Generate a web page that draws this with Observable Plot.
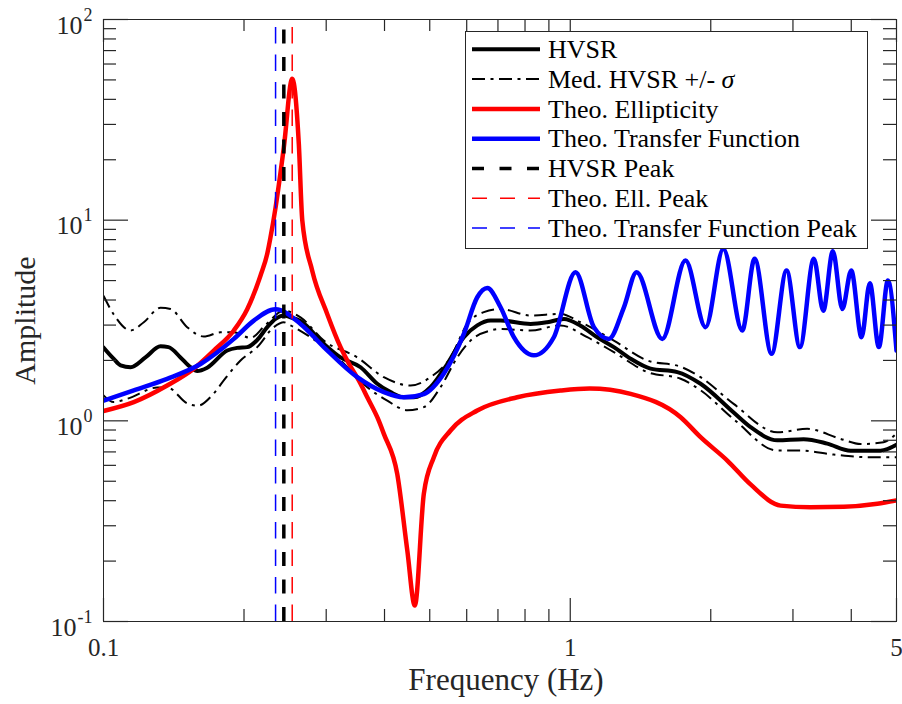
<!DOCTYPE html>
<html>
<head>
<meta charset="utf-8">
<script src="https://cdn.jsdelivr.net/npm/d3@7"></script>
<script src="https://cdn.jsdelivr.net/npm/@observablehq/plot@0.6"></script>
<style>
  body { margin: 0; background: #fff; }
  #chart { width: 902px; height: 704px; }
</style>
</head>
<body>
<div id="chart"></div>
<script>
// ---------- data ----------
const hvsrFreq = [0.1, 0.1051, 0.1088, 0.1143, 0.1230, 0.1325, 0.1378, 0.1462, 0.1536, 0.1588, 0.1668, 0.1841, 0.1934, 0.2032, 0.2135, 0.2243, 0.2336, 0.2434, 0.2516, 0.2643, 0.2965, 0.3220, 0.3554, 0.3860, 0.4121, 0.4400, 0.4622, 0.5019, 0.5451, 0.5916, 0.6321, 0.6750, 0.7091, 0.8221, 0.8926, 0.9690, 1.052, 1.1425, 1.240, 1.3465, 1.486, 1.696, 1.902, 2.239, 2.434, 2.777, 3.162, 3.554, 3.987, 4.622, 5.0];
const hvsrAmp = [2.32, 2.04, 1.89, 1.85, 2.07, 2.35, 2.33, 2.07, 1.85, 1.77, 1.84, 2.24, 2.31, 2.33, 2.53, 2.93, 3.22, 3.35, 3.28, 3.14, 2.42, 2.07, 1.85, 1.53, 1.39, 1.31, 1.31, 1.47, 1.92, 2.61, 2.99, 3.16, 3.16, 3.04, 3.10, 3.22, 2.98, 2.61, 2.33, 2.04, 1.82, 1.75, 1.53, 1.10, 0.93, 0.80, 0.81, 0.77, 0.71, 0.71, 0.76];

const upperFreq = [0.1, 0.1051, 0.1143, 0.1220, 0.1325, 0.1392, 0.1511, 0.1640, 0.1781, 0.1902, 0.2066, 0.2220, 0.2434, 0.2643, 0.2965, 0.3497, 0.3987, 0.4548, 0.5019, 0.5540, 0.6016, 0.6530, 0.7091, 0.8221, 0.9533, 1.052, 1.240, 1.4622, 1.724, 1.902, 2.239, 2.777, 3.220, 3.795, 4.188, 4.691, 5.0];
const upperAmp = [4.2, 3.4, 2.82, 3.10, 3.66, 3.61, 2.93, 2.63, 2.76, 2.76, 2.59, 2.99, 3.54, 3.28, 2.51, 2.07, 1.65, 1.50, 1.65, 2.07, 3.04, 3.48, 3.61, 3.35, 3.41, 3.10, 2.51, 2.00, 1.86, 1.65, 1.215, 0.877, 0.912, 0.813, 0.766, 0.782, 0.864];

const lowerFreq = [0.1, 0.1051, 0.1126, 0.1305, 0.1371, 0.1513, 0.1590, 0.1723, 0.1810, 0.1966, 0.2135, 0.2317, 0.2434, 0.2516, 0.2777, 0.3220, 0.3674, 0.4055, 0.4476, 0.4856, 0.5273, 0.5727, 0.6115, 0.6750, 0.7091, 0.8221, 0.9533, 1.0875, 1.240, 1.4622, 1.724, 1.902, 2.239, 2.777, 3.115, 3.666, 4.328, 5.0];
const lowerAmp = [1.34, 1.24, 1.29, 1.465, 1.465, 1.22, 1.19, 1.37, 1.59, 2.00, 2.33, 2.93, 3.10, 2.99, 2.61, 2.00, 1.47, 1.26, 1.13, 1.17, 1.47, 2.07, 2.51, 2.82, 2.87, 2.82, 2.99, 2.61, 2.20, 1.75, 1.62, 1.42, 1.02, 0.711, 0.711, 0.679, 0.659, 0.659];

const ellFreq = [0.1, 0.1161, 0.1369, 0.1561, 0.1723, 0.1902, 0.2032, 0.2170, 0.2243, 0.2279, 0.2336, 0.2434, 0.2537, 0.2621, 0.2666, 0.2800, 0.3015, 0.3220, 0.3328, 0.3554, 0.3674, 0.3890, 0.3987, 0.4259, 0.4476, 0.4645, 0.4856, 0.5102, 0.5540, 0.6321, 0.7700, 0.9533, 1.10, 1.3465, 1.724, 1.902, 2.170, 2.434, 2.823, 3.273, 3.857, 4.549, 5.0];
const ellAmp = [1.12, 1.24, 1.50, 1.82, 2.24, 2.82, 3.6, 5.3, 6.8, 8.2, 11.5, 23, 50.6, 24, 10, 5.6, 3.41, 2.33, 2.00, 1.53, 1.31, 1.00, 0.861, 0.544, 0.226, 0.12, 0.433, 0.659, 0.895, 1.126, 1.311, 1.416, 1.45, 1.363, 1.042, 0.829, 0.634, 0.482, 0.378, 0.371, 0.373, 0.386, 0.401];

const tfFreq = [0.1, 0.1161, 0.1369, 0.1614, 0.1902, 0.2099, 0.2337, 0.2643, 0.2965, 0.3497, 0.3987, 0.4400, 0.4856, 0.5360, 0.5916, 0.6321, 0.6641, 0.7091, 0.7572, 0.8356, 0.9222, 1.0265, 1.1235, 1.210, 1.303, 1.387, 1.5745, 1.766, 1.9495, 2.128, 2.336, 2.483, 2.700, 2.907, 3.105, 3.326, 3.484, 3.653, 3.827, 4.000, 4.208, 4.384, 4.583, 4.792, 5.0];
const tfAmp = [1.26, 1.42, 1.62, 1.92, 2.56, 3.16, 3.6, 3.04, 2.33, 1.65, 1.39, 1.31, 1.36, 1.72, 2.71, 4.13, 4.59, 3.68, 2.61, 2.12, 2.61, 5.50, 2.93, 2.56, 3.68, 5.50, 2.56, 6.29, 2.93, 7.19, 2.82, 6.42, 2.16, 5.61, 2.33, 6.42, 3.54, 7.00, 3.61, 5.61, 2.61, 4.85, 2.33, 5.0, 2.24];

const hvsrPeak = [0.2434];
const ellPeak = [0.2537];
const tfPeak = [0.2337];

const xTickValues = [0.1, 1, 5];
const xTickLabels = ["0.1", "1", "5"];
const xMinorTicks = [0.2, 0.3, 0.4, 0.5, 0.6, 0.7, 0.8, 0.9, 2, 3, 4];
const yTickValues = [0.1, 1, 10, 100];
const yTickExponents = ["-1", "0", "1", "2"];
const yMinorTicks = [0.2, 0.3, 0.4, 0.5, 0.6, 0.7, 0.8, 0.9, 2, 3, 4, 5, 6, 7, 8, 9, 20, 30, 40, 50, 60, 70, 80, 90];

const legendLabels = ["HVSR", "Med. HVSR +/- ", "Theo. Ellipticity", "Theo. Transfer Function", "HVSR Peak", "Theo. Ell. Peak", "Theo. Transfer Function Peak"];

// ---------- layout ----------
const W = 902, H = 704, mL = 103, mR = 6, mT = 19, mB = 83;
const frameW = W - mL - mR, frameH = H - mT - mB;
const FONT = '"Liberation Serif", "Times New Roman", Times, serif';
const AX = "#262626";

const rows = (fs, as) => fs.map((f, i) => ({f, a: as[i]}));
const hvsr = rows(hvsrFreq, hvsrAmp);
const upper = rows(upperFreq, upperAmp);
const lower = rows(lowerFreq, lowerAmp);
const ell = rows(ellFreq, ellAmp);
const tf = rows(tfFreq, tfAmp);
const yTicks = yTickValues.map((v, i) => ({v, e: yTickExponents[i]}));
const xTicks = xTickValues.map((v, i) => ({v, t: xTickLabels[i]}));

const dashDot = "13,5.5,3,5.5";

const plot = Plot.plot({
  width: W, height: H,
  marginLeft: mL, marginRight: mR, marginTop: mT, marginBottom: mB,
  style: {fontFamily: FONT, background: "white", overflow: "visible"},
  x: {type: "log", domain: [0.1, 5], axis: null},
  y: {type: "log", domain: [0.1, 100], axis: null},
  marks: [
    // curves
    Plot.line(hvsr, {x: "f", y: "a", stroke: "black", strokeWidth: 4, curve: "monotone-x", clip: true}),
    Plot.line(upper, {x: "f", y: "a", stroke: "black", strokeWidth: 2, strokeDasharray: dashDot, strokeLinecap: "butt", curve: "monotone-x", clip: true}),
    Plot.line(lower, {x: "f", y: "a", stroke: "black", strokeWidth: 2, strokeDasharray: dashDot, strokeLinecap: "butt", curve: "monotone-x", clip: true}),
    Plot.line(ell, {x: "f", y: "a", stroke: "#ff0000", strokeWidth: 4.5, curve: "monotone-x", clip: true}),
    Plot.line(tf, {x: "f", y: "a", stroke: "#0000ff", strokeWidth: 4.5, curve: "monotone-x", clip: true}),
    // peak lines (drawn from bottom to top)
    Plot.ruleX(hvsrPeak, {x: d => d, y1: 0.1, y2: 100, stroke: "black", strokeWidth: 3.5, strokeDasharray: "14,13.5"}),
    Plot.ruleX(ellPeak, {x: d => d, y1: 0.1, y2: 100, stroke: "#ff0000", strokeWidth: 1.5, strokeDasharray: "16.5,11"}),
    Plot.ruleX(tfPeak, {x: d => d, y1: 0.1, y2: 100, stroke: "#0000ff", strokeWidth: 1.5, strokeDasharray: "16.5,11"}),
    // box
    Plot.frame({stroke: AX, strokeWidth: 1}),
    // inward ticks, x (bottom & top)
    Plot.ruleX(xTickValues, {x: d => d, stroke: AX, strokeWidth: 1.2, insetTop: frameH - 23}),
    Plot.ruleX(xTickValues, {x: d => d, stroke: AX, strokeWidth: 1.2, insetBottom: frameH - 23}),
    Plot.ruleX(xMinorTicks, {x: d => d, stroke: AX, strokeWidth: 1.2, insetTop: frameH - 12}),
    Plot.ruleX(xMinorTicks, {x: d => d, stroke: AX, strokeWidth: 1.2, insetBottom: frameH - 12}),
    // inward ticks, y (left & right)
    Plot.ruleY(yTickValues, {y: d => d, stroke: AX, strokeWidth: 1.2, insetRight: frameW - 25}),
    Plot.ruleY(yTickValues, {y: d => d, stroke: AX, strokeWidth: 1.2, insetLeft: frameW - 25}),
    Plot.ruleY(yMinorTicks, {y: d => d, stroke: AX, strokeWidth: 1.2, insetRight: frameW - 13}),
    Plot.ruleY(yMinorTicks, {y: d => d, stroke: AX, strokeWidth: 1.2, insetLeft: frameW - 13}),
    // x tick labels
    Plot.text(xTicks, {x: "v", text: "t", frameAnchor: "bottom", lineAnchor: "bottom", dy: 34, fontSize: 25, fill: AX}),
    // y tick labels: base and exponent
    Plot.text(yTicks, {filter: d => d.e.length === 1, y: "v", text: () => "10", frameAnchor: "left", textAnchor: "end", lineAnchor: "bottom", dx: -21, dy: 14, fontSize: 26, fill: AX}),
    Plot.text(yTicks, {filter: d => d.e.length === 2, y: "v", text: () => "10", frameAnchor: "left", textAnchor: "end", lineAnchor: "bottom", dx: -27, dy: 14, fontSize: 26, fill: AX}),
    Plot.text(yTicks, {y: "v", text: "e", frameAnchor: "left", textAnchor: "end", lineAnchor: "bottom", dx: -11, dy: 1, fontSize: 18, fill: AX}),
    // axis labels
    Plot.text(["Frequency (Hz)"], {text: d => d, frameAnchor: "bottom", lineAnchor: "bottom", dx: 6, dy: 68, fontSize: 31, fill: AX}),
    Plot.text(["Amplitude"], {text: d => d, frameAnchor: "left", textAnchor: "middle", lineAnchor: "bottom", rotate: -90, dx: -69, fontSize: 30, fill: AX})
  ]
});

// ---------- legend (drawn into the same SVG) ----------
const svg = d3.select(plot);
const lg = svg.append("g").attr("font-family", FONT).attr("text-anchor", "start");
lg.append("rect").attr("x", 465.5).attr("y", 31.5).attr("width", 402).attr("height", 217)
  .attr("fill", "white").attr("stroke", AX).attr("stroke-width", 1);
const legendStyles = [
  {stroke: "black", width: 4, dash: null},
  {stroke: "black", width: 2, dash: dashDot},
  {stroke: "#ff0000", width: 4.5, dash: null},
  {stroke: "#0000ff", width: 4.5, dash: null},
  {stroke: "black", width: 3.5, dash: "12,15.5"},
  {stroke: "#ff0000", width: 1.5, dash: "15,13"},
  {stroke: "#0000ff", width: 1.5, dash: "15,13"}
];
legendLabels.forEach((label, i) => {
  const by = 58 + i * 29.8;
  const s = legendStyles[i];
  const ln = lg.append("line").attr("x1", 472).attr("x2", 540).attr("y1", by - 8.7).attr("y2", by - 8.7)
    .attr("stroke", s.stroke).attr("stroke-width", s.width);
  if (s.dash) ln.attr("stroke-dasharray", s.dash);
  const t = lg.append("text").attr("x", 548).attr("y", by).attr("font-size", 26)
    .attr("fill", "black").attr("text-anchor", "start").text(label);
  if (i === 1) t.append("tspan").attr("font-style", "italic").text("σ");
});

document.getElementById("chart").appendChild(plot);
</script>
</body>
</html>
